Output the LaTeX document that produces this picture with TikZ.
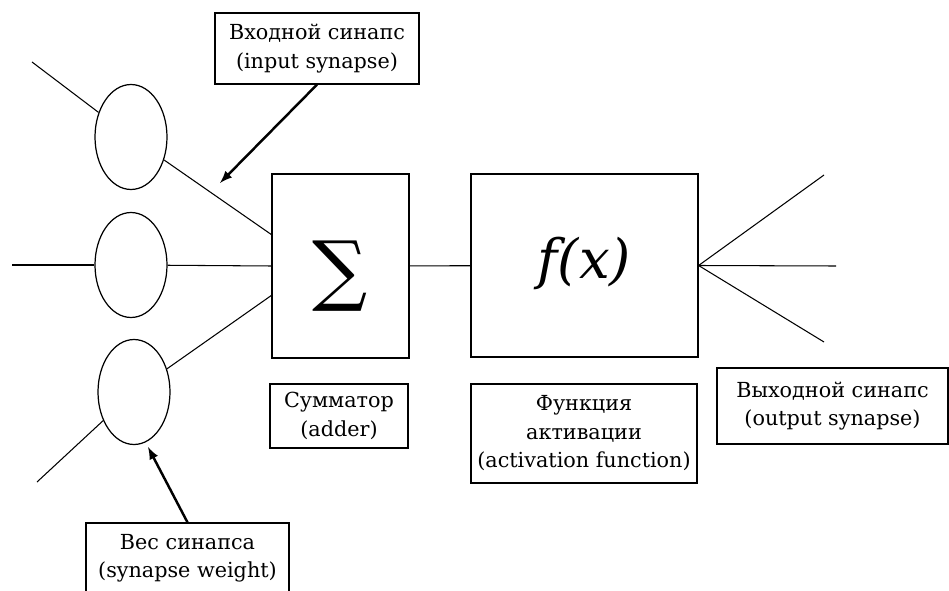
\documentclass[tikz,border=0pt]{standalone}
\usepackage{fontspec}
\setmainfont{DejaVu Serif}
\usetikzlibrary{shapes.geometric}

\begin{document}
\begin{tikzpicture}[x=0.02cm, y=-0.02cm,
  wgt/.style={draw, ellipse, line width=0.7pt, minimum width=1.44cm,
              minimum height=2.1cm, inner sep=0},
  blk/.style={draw, line width=0.7pt, inner sep=0},
  lbl/.style={draw, line width=0.7pt, inner sep=0, align=center,
              font=\fontsize{11.8}{16.2}\selectfont},
  wire/.style={line width=0.6pt},
  flow/.style={->, >=latex, line width=1.4pt}
]
\useasboundingbox (0,0) rectangle (949,591);

%% ── Weights (ellipses) ────────────────────────────────────────────────────────
\node[wgt] (w1) at (131,137) {};
\node[wgt] (w2) at (131,265) {};
\node[wgt] (w3) at (134,392) {};

%% ── Adder and activation blocks ───────────────────────────────────────────────
\node[blk, minimum width=2.74cm, minimum height=3.68cm] (sum) at (340.5,266)
  {\fontsize{44}{44}\selectfont\raisebox{-0.62cm}[0pt][0pt]{∑}};
\node[blk, minimum width=4.54cm, minimum height=3.66cm] (act) at (584.5,265.5)
  {\fontsize{31}{36}\selectfont\raisebox{-0.25cm}[0pt][0pt]{\itshape f(x)}};

%% ── Labels ────────────────────────────────────────────────────────────────────
\node[lbl, minimum width=4.08cm, minimum height=1.42cm] (insyn) at (317,48.5)
  {Входной синапс\\(input synapse)};
\node[lbl, minimum width=2.76cm, minimum height=1.28cm] (adder) at (339,416)
  {Сумматор\\(adder)};
\node[lbl, minimum width=4.52cm, minimum height=1.98cm] (actfn) at (584,433.5)
  {Функция\\активации\\(activation function)};
\node[lbl, minimum width=4.62cm, minimum height=1.52cm] (outsyn) at (832.5,406)
  {Выходной синапс\\(output synapse)};
\node[lbl, minimum width=4.06cm, minimum height=1.42cm] (wsyn) at (187.5,558.5)
  {Вес синапса\\(synapse weight)};

%% ── Free ends of the wires ────────────────────────────────────────────────────
\coordinate (in1) at (32,62);
\coordinate (in2) at (12,265);
\coordinate (in3) at (37,482);
\coordinate (s1) at (272,235);
\coordinate (s2) at (272,266);
\coordinate (s3) at (272,295);
\coordinate (out1) at (824,175);
\coordinate (out2) at (836,266);
\coordinate (out3) at (824,342);

%% ── Wires ─────────────────────────────────────────────────────────────────────
\draw[wire] (in1) -- (w1);
\draw[wire] (w1) -- (s1);
\draw[wire] (in2) -- (w2);
\draw[wire] (w2) -- (s2);
\draw[wire] (in3) -- (w3);
\draw[wire] (w3) -- (s3);
\draw[wire] (sum) -- (act);
\draw[wire] (act.east) -- (out1);
\draw[wire] (act.east) -- (out2);
\draw[wire] (act.east) -- (out3);

% Pointers from the labels
\draw[flow] (insyn.south) -- (220,183);
\draw[flow] (wsyn.north) -- (148,447);

\end{tikzpicture}
\end{document}
